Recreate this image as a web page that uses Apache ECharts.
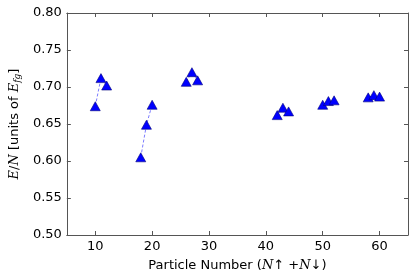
<!DOCTYPE html>
<html>
<head>
<meta charset="utf-8">
<script src="https://cdn.jsdelivr.net/npm/echarts@6/dist/echarts.min.js"></script>
<style>html,body{margin:0;padding:0;background:#fff}#c{width:415px;height:277px}</style>
</head>
<body>
<div id="c"></div>
<script>
// Data (particle number N, energy per particle E/N)
const group1N = [10, 11, 12];
const group1E = [0.674, 0.712, 0.702];
const group2N = [18, 19, 20];
const group2E = [0.605, 0.649, 0.676];
const group3N = [26, 27, 28];
const group3E = [0.707, 0.720, 0.709];
const group4N = [42, 43, 44];
const group4E = [0.662, 0.672, 0.667];
const group5N = [50, 51, 52];
const group5E = [0.676, 0.681, 0.682];
const group6N = [58, 59, 60];
const group6E = [0.686, 0.689, 0.687];
const xTicks = [10, 20, 30, 40, 50, 60];
const yTicks = [0.50, 0.55, 0.60, 0.65, 0.70, 0.75, 0.80];

const groups = [[group1N, group1E], [group2N, group2E], [group3N, group3E],
                [group4N, group4E], [group5N, group5E], [group6N, group6E]];

const chart = echarts.init(document.getElementById('c'), null, {renderer: 'canvas'});
const font = 'DejaVu Sans';
const lineCol = '#555';
const series = groups.map(g => ({
  type: 'line',
  data: g[0].map((n, i) => [n, g[1][i]]),
  symbol: 'triangle',
  symbolSize: [10, 9],
  itemStyle: {color: '#0000ff', borderColor: '#00007a', borderWidth: 0.6},
  lineStyle: {color: '#7b7bff', width: 1, type: [3, 2]},
  emphasis: {disabled: true},
  animation: false
}));

const option = {
  animation: false,
  grid: {left: 57, right: 7, top: 13, bottom: 39, containLabel: false},
  xAxis: [{
    type: 'value', min: 5, max: 65,
    axisLine: {show: true, lineStyle: {color: lineCol, width: 1}},
    axisTick: {show: true, inside: true, length: 4, customValues: xTicks, lineStyle: {color: lineCol}},
    axisLabel: {customValues: xTicks, fontFamily: font, fontSize: 13, color: '#000', margin: 5},
    splitLine: {show: false},
    name: '{a|Particle Number (}{i|N}{a|↑ +}{i|N}{a|↓)}',
    nameLocation: 'middle', nameGap: 24,
    nameTextStyle: {rich: {
      a: {fontFamily: font, fontSize: 13, color: '#000'},
      i: {fontFamily: 'DejaVu Serif', fontStyle: 'italic', fontSize: 13, color: '#000'}
    }}
  }, {
    type: 'value', min: 5, max: 65, position: 'top',
    axisLine: {show: true, lineStyle: {color: lineCol, width: 1}},
    axisTick: {show: true, inside: true, length: 4, customValues: xTicks, lineStyle: {color: lineCol}},
    axisLabel: {show: false}, splitLine: {show: false}
  }],
  yAxis: [{
    type: 'value', min: 0.5, max: 0.8, interval: 0.05,
    axisLine: {show: true, lineStyle: {color: lineCol, width: 1}},
    axisTick: {show: true, inside: true, length: 4, lineStyle: {color: lineCol}},
    axisLabel: {fontFamily: font, fontSize: 13, color: '#000', margin: 5,
      formatter: v => v.toFixed(2)},
    splitLine: {show: false},
    name: '{i|E}{a|/}{i|N}{a| [units of }{i|E}{s|fg}{a|]}',
    nameLocation: 'middle', nameGap: 41, nameRotate: 90,
    nameTextStyle: {rich: {
      a: {fontFamily: font, fontSize: 13, color: '#000'},
      i: {fontFamily: 'DejaVu Serif', fontStyle: 'italic', fontSize: 13, color: '#000'},
      s: {fontFamily: 'DejaVu Serif', fontStyle: 'italic', fontSize: 9, color: '#000', verticalAlign: 'bottom', padding: [6, 0, 0, 0]}
    }}
  }, {
    type: 'value', min: 0.5, max: 0.8, interval: 0.05, position: 'right',
    axisLine: {show: true, lineStyle: {color: lineCol, width: 1}},
    axisTick: {show: true, inside: true, length: 4, lineStyle: {color: lineCol}},
    axisLabel: {show: false}, splitLine: {show: false}
  }],
  series: series
};
chart.setOption(option);
</script>
</body>
</html>
